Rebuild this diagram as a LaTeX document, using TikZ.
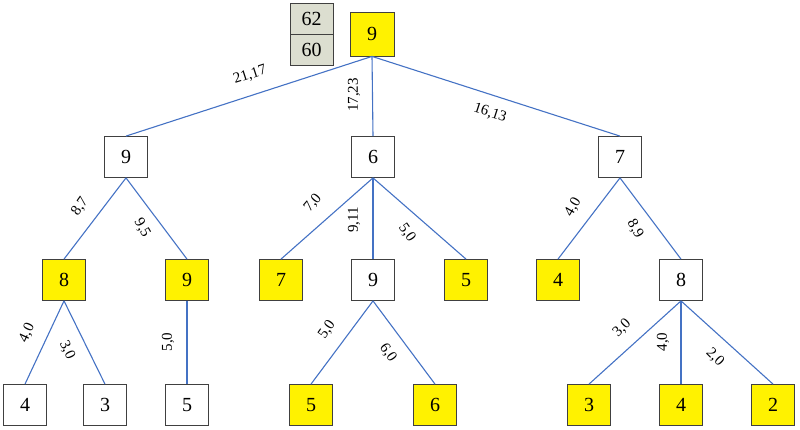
\documentclass[tikz,border=0pt]{standalone}
\usepackage{fontspec}
\setmainfont{Liberation Serif}
\begin{document}
\begin{tikzpicture}[x=1pt,y=-1pt,
 box/.style={draw=black!75,line width=0.8pt,minimum width=43pt,minimum height=41pt,inner sep=0pt,font=\fontsize{20}{24}\selectfont,fill=white},
 yb/.style={box,fill=yellow},
 gb/.style={draw=black!75,line width=0.8pt,fill={rgb,255:red,220;green,222;blue,208},minimum width=43pt,minimum height=31pt,inner sep=0pt,font=\fontsize{20}{24}\selectfont},
 e/.style={draw={rgb,255:red,68;green,114;blue,196},line width=1.1pt},
 lb/.style={font=\fontsize{15}{18}\selectfont,inner sep=0pt}]
\useasboundingbox (0,0) rectangle (800,430);
\node[gb] (g1) at (311.5,18.5) {62};
\node[gb] (g2) at (311.5,49.5) {60};
\node[yb,minimum height=44pt,minimum width=44pt] (r) at (372,34) {9};
\node[box] (a) at (126,157) {9};
\node[box] (b) at (373,157) {6};
\node[box] (c) at (620,157) {7};
\node[yb] (a1) at (64,280) {8};
\node[yb] (a2) at (187,280) {9};
\node[yb] (b1) at (281,280) {7};
\node[box] (b2) at (373,280) {9};
\node[yb] (b3) at (466,280) {5};
\node[yb] (c1) at (558,280) {4};
\node[box] (c2) at (681,280) {8};
\node[box] (d1) at (25,405) {4};
\node[box] (d2) at (105,405) {3};
\node[box] (d3) at (187,405) {5};
\node[yb] (d4) at (311,405) {5};
\node[yb] (d5) at (435,405) {6};
\node[yb] (d6) at (589,405) {3};
\node[yb] (d7) at (681,405) {4};
\node[yb] (d8) at (773,405) {2};
\foreach \p/\c in {r/a,r/b,r/c,a/a1,a/a2,b/b1,b/b2,b/b3,c/c1,c/c2,a1/d1,a1/d2,a2/d3,b2/d4,b2/d5,c2/d6,c2/d7,c2/d8}
  \draw[e] (\p.south) -- (\c.north);
\node[lb,rotate=18] at (250,75) {21,17};
\node[lb,rotate=90] at (354,95) {17,23};
\node[lb,rotate=-18] at (490,113) {16,13};
\node[lb,rotate=55] at (80,207) {8,7};
\node[lb,rotate=-60] at (142,228) {9,5};
\node[lb,rotate=50] at (313,203) {7,0};
\node[lb,rotate=90] at (354,220) {9,11};
\node[lb,rotate=-55] at (407,233) {5,0};
\node[lb,rotate=60] at (573,207) {4,0};
\node[lb,rotate=-60] at (635,229) {8,9};
\node[lb,rotate=65] at (27,333) {4,0};
\node[lb,rotate=-65] at (67,350) {3,0};
\node[lb,rotate=90] at (168,342) {5,0};
\node[lb,rotate=55] at (327,330) {5,0};
\node[lb,rotate=-55] at (388,353) {6,0};
\node[lb,rotate=45] at (622,328) {3,0};
\node[lb,rotate=90] at (663,342) {4,0};
\node[lb,rotate=-45] at (715,357) {2,0};
\end{tikzpicture}
\end{document}
